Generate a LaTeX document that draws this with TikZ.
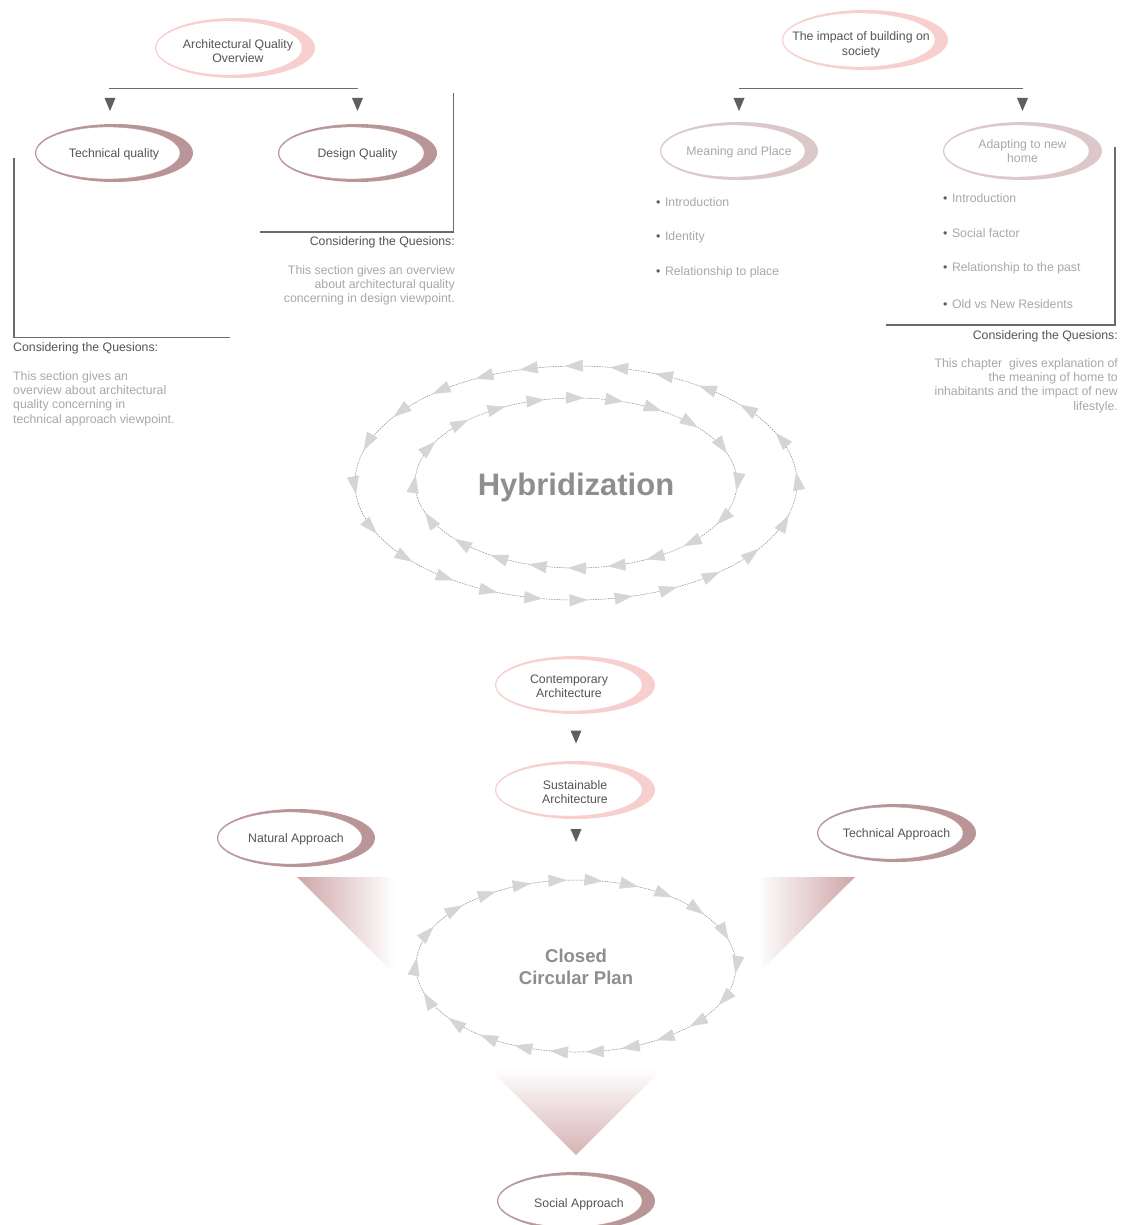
\documentclass[tikz,border=0pt]{standalone}
\usepackage{fontspec}
\setmainfont{Liberation Sans}
\usetikzlibrary{arrows.meta,decorations.markings}

\definecolor{linegray}{HTML}{6B6B6B}
\definecolor{tipgray}{HTML}{5F5F5F}
\definecolor{darktext}{HTML}{555555}
\definecolor{softtext}{HTML}{A8A8A8}
\definecolor{rose}{HTML}{BA9597}
\definecolor{blush}{HTML}{F8CFCF}
\definecolor{mist}{HTML}{DCC8C9}
\definecolor{fanpink}{HTML}{CFA5A8}
\definecolor{ringline}{HTML}{8A8A8A}
\definecolor{ringtip}{HTML}{D5D5D5}
\definecolor{bigtext}{HTML}{8E8E8E}

\tikzset{
  bodyfont/.style={font=\fontsize{12.3}{14.4}\selectfont},
  fork/.style={draw=linegray, line width=1.6pt},
  heading/.style={bodyfont, text=darktext, inner sep=0pt},
  para/.style={bodyfont, text=softtext, inner sep=0pt},
  item/.style={bodyfont, text=softtext, inner sep=0pt, anchor=west},
  ring/.style={draw=ringline, line width=.5pt, dash pattern=on 1.6pt off 1pt,
    postaction={decorate},
    decoration={markings,
      mark=between positions 0.01 and 0.999 step #1 with
        {\arrow{Triangle[length=18pt,width=12pt,color=ringtip]}}}},
}

% ellipse with a crescent rim on its right side
% [#1 text shift], #2 name, #3 x, #4 y, #5 x radius, #6 y radius,
% #7 rim colour, #8 text colour, #9 text
\newcommand\crescentnode[9][]{%
  \fill[#7] (#3,#4) ellipse[x radius=#5pt, y radius=#6pt];
  \filldraw[fill=white, draw=#7, line width=.35pt]
    ({#3-6},#4) ellipse[x radius={(#5-7)*1pt}, y radius={(#6-3)*1pt}];
  \node[bodyfont, text=#8, align=center, inner sep=0pt, yshift=-1pt, #1] (#2) at (#3,#4) {#9};
}

% small solid triangle pointing down
\newcommand\downtip[3]{%
  \coordinate (#1) at (#2,#3);
  \fill[tipgray] (#1) ++(-5.5,-6.5) -- ++(11,0) -- ++(-5.5,13) -- cycle;
}

\newcommand\dotitem[4]{%
  \node[item] (#1) at (#2,#3) {\textcolor{tipgray}{\textbullet}\hspace{4.5pt}#4};
}

\begin{document}
\begin{tikzpicture}[x=1pt,y=-1pt]
\useasboundingbox (0,0) rectangle (1126,1225);
\fill[white] (0,0) rectangle (1126,1225);

% ---------- architectural quality branch ----------
\crescentnode[xshift=3pt,yshift=-2pt]{aqo}{235}{48}{80}{30}{blush}{darktext}{Architectural Quality\\Overview}
\coordinate (aqL) at (109,88.5);
\coordinate (aqR) at (358,88.5);
\draw[fork] (aqL) -- (aqR);
\downtip{tqtip}{110}{104.5}
\downtip{dqtip}{357.5}{104.5}
\crescentnode{tq}{114}{153}{79}{29}{rose}{darktext}{Technical quality}
\crescentnode{dq}{357.5}{153}{79.5}{29}{rose}{darktext}{Design Quality}

% bracket under technical quality
\coordinate (tqA) at (14,158);
\coordinate (tqB) at (14,337.5);
\coordinate (tqC) at (230,337.5);
\draw[fork, line width=1.3pt] (tqA) -- (tqB) -- (tqC);
\node[heading, anchor=west] (tqhead) at (13,348) {Considering the Quesions:};
\node[para, anchor=north west, align=left] (tqtext) at (13,371)
  {This section gives an\\overview about architectural\\quality concerning in\\technical approach viewpoint.};

% bracket under design quality
\coordinate (dqA) at (453.5,93);
\coordinate (dqB) at (453.5,232);
\coordinate (dqC) at (260,232);
\draw[fork, line width=1.3pt] (dqA) -- (dqB) -- (dqC);
\node[heading, anchor=east] (dqhead) at (455,242.5) {Considering the Quesions:};
\node[para, anchor=north east, align=right] (dqtext) at (455,265)
  {This section gives an overview\\about architectural quality\\concerning in design viewpoint.};

% ---------- society branch ----------
\crescentnode[xshift=-4pt,yshift=-4pt]{ibs}{865}{40}{83}{30}{blush}{darktext}{The impact of building on\\society}
\coordinate (ibL) at (739,88.5);
\coordinate (ibR) at (1023,88.5);
\draw[fork] (ibL) -- (ibR);
\downtip{mptip}{739}{104.5}
\downtip{ahtip}{1022.5}{104.5}
\crescentnode{mp}{739}{151}{79}{29}{mist}{softtext}{Meaning and Place}
\crescentnode[yshift=1pt]{ah}{1022.5}{151}{79.5}{29}{mist}{softtext}{Adapting to new\\home}

\dotitem{mp1}{656}{202.5}{Introduction}
\dotitem{mp2}{656}{237.5}{Identity}
\dotitem{mp3}{656}{272.5}{Relationship to place}

\dotitem{ah1}{943}{198.5}{Introduction}
\dotitem{ah2}{943}{233.5}{Social factor}
\dotitem{ah3}{943}{268.5}{Relationship to the past}
\dotitem{ah4}{943}{304.5}{Old vs New Residents}

\coordinate (ahA) at (1115,147);
\coordinate (ahB) at (1115,325);
\coordinate (ahC) at (886,325);
\draw[fork, line width=1.3pt] (ahA) -- (ahB) -- (ahC);
\node[heading, anchor=east] (ahhead) at (1118,336) {Considering the Quesions:};
\node[para, anchor=north east, align=right] (ahtext) at (1118,358)
  {This chapter\ \ gives explanation of\\the meaning of home to\\inhabitants and the impact of new\\lifestyle.};

% ---------- hybridization rings ----------
\draw[ring=0.0417] (797,483) arc[start angle=0, end angle=360, x radius=221pt, y radius=117pt];
\draw[ring=0.05] (737,483) arc[start angle=0, end angle=-360, x radius=161pt, y radius=85pt];
\node[font=\fontsize{31}{36}\selectfont\bfseries, text=bigtext] (hyb) at (576,487) {Hybridization};

% ---------- sustainable approach ----------
\crescentnode[xshift=-6pt]{ca}{575}{685}{80}{29}{blush}{darktext}{Contemporary\\Architecture}
\downtip{catip}{576}{737}
\crescentnode[yshift=-1pt]{sa}{575}{790}{80}{29}{blush}{darktext}{Sustainable\\Architecture}
\downtip{satip}{576}{835.5}

\crescentnode{na}{296}{838}{79}{29}{rose}{darktext}{Natural Approach}
\crescentnode{ta}{896.5}{833}{79.5}{29}{rose}{darktext}{Technical Approach}

% shaded funnel
\begin{scope}
  \clip (297,877) -- (855,877) -- (576,1155) -- cycle;
  \shade[left color=fanpink, right color=white] (297,877) rectangle (395,1000);
  \shade[left color=white, right color=fanpink] (757,877) rectangle (855,1000);
  \shade[top color=white, bottom color=fanpink!85] (450,1068) rectangle (700,1155);
\end{scope}

\draw[ring=0.0455] (736,966) arc[start angle=0, end angle=-360, x radius=160pt, y radius=86pt];
\node[font=\fontsize{18.5}{22}\selectfont\bfseries, text=bigtext, align=center] (ccp) at (576,967) {Closed\\Circular Plan};

\crescentnode[xshift=3pt,yshift=-2pt]{soa}{576}{1201}{79}{29}{rose}{darktext}{Social Approach}
\end{tikzpicture}
\end{document}
